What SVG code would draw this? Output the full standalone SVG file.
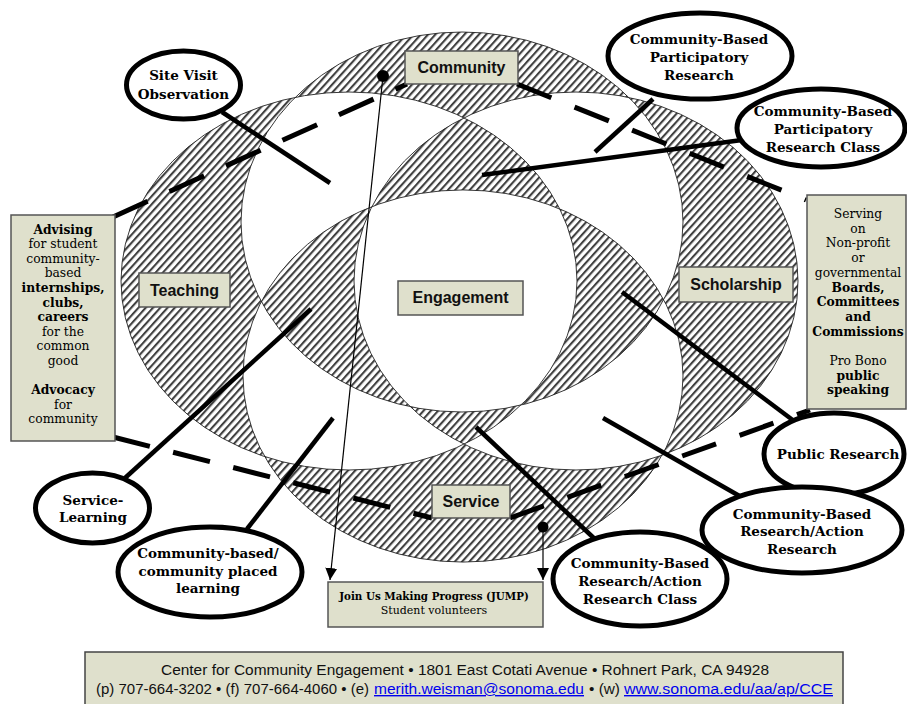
<svg xmlns="http://www.w3.org/2000/svg" width="907" height="704" viewBox="0 0 907 704">
<style>
.box{fill:#dfe0cc;stroke:#555;stroke-width:1.5}
.lbl{font-family:"Liberation Sans",Arial,sans-serif;font-weight:bold;font-size:16px;text-anchor:middle;fill:#111}
.call{fill:#fff;stroke:#000;stroke-width:5}
.ct{font-family:"DejaVu Serif",serif;font-weight:bold;font-size:13.5px;text-anchor:middle;fill:#000}
.lead{stroke:#000;stroke-width:4.5;fill:none}
.dash{stroke:#000;stroke-width:5;fill:none;stroke-dasharray:38 24}
.st{font-family:"DejaVu Serif",serif;font-size:12.3px;text-anchor:middle;fill:#000}
.st .b{font-weight:bold}
.foot{font-family:"Liberation Sans",Arial,sans-serif;font-size:14px;fill:#111}
.link{fill:#0000ee;text-decoration:underline}
.thin{stroke:#000;stroke-width:1.2;fill:none}
</style>
<defs>
<pattern id="hatch" width="5.4" height="5.4" patternUnits="userSpaceOnUse" patternTransform="rotate(42)">
<rect width="5.4" height="5.4" fill="#fff"/>
<rect width="2.1" height="5.4" fill="#404040"/>
</pattern>
<marker id="arr" markerUnits="userSpaceOnUse" markerWidth="14" markerHeight="14" refX="12" refY="6" orient="auto">
<path d="M0,0 L12,6 L0,12 Z" fill="#000"/>
</marker>
</defs>

<g id="venn">
<path fill="url(#hatch)" fill-rule="evenodd" stroke="#222" stroke-width="0.9" d="M241,222 a221,190 0 1,0 442,0 a221,190 0 1,0 -442,0 Z M243,376 a220,186 0 1,0 440,0 a220,186 0 1,0 -440,0 Z M121,281 a228,189 0 1,0 456,0 a228,189 0 1,0 -456,0 Z M354,281 a222,189 0 1,0 444,0 a222,189 0 1,0 -444,0 Z"/>
</g>

<g id="connectors">
<line class="dash" x1="113" y1="217" x2="407" y2="84"/>
<line class="dash" x1="517" y1="84" x2="806" y2="200" style="stroke-dasharray:37 25"/>
<line class="dash" x1="113" y1="437" x2="432" y2="518"/>
<line class="dash" x1="510" y1="518" x2="810" y2="410" style="stroke-dasharray:36 25"/>
<line class="lead" x1="222" y1="112" x2="330" y2="183"/>
<line class="lead" x1="653" y1="99" x2="595" y2="152"/>
<line class="lead" x1="742" y1="140" x2="482" y2="175"/>
<line class="lead" x1="622" y1="292" x2="802" y2="427"/>
<line class="lead" x1="603" y1="418" x2="750" y2="502"/>
<line class="lead" x1="476" y1="427" x2="598" y2="542"/>
<line class="lead" x1="125" y1="478" x2="311" y2="309"/>
<line class="lead" x1="247" y1="529" x2="333" y2="418"/>
<line class="thin" x1="383" y1="76" x2="330" y2="580" marker-end="url(#arr)"/>
<line class="thin" x1="543" y1="527" x2="543" y2="580" marker-end="url(#arr)"/>
<circle cx="383" cy="76" r="6" fill="#000"/>
<circle cx="543" cy="527" r="5.5" fill="#000"/>
</g>

<g id="community"><rect class="box" x="405" y="51" width="113" height="33"/><text class="lbl" x="461.5" y="73">Community</text></g>
<g id="teaching"><rect class="box" x="139" y="273" width="91" height="34"/><text class="lbl" x="184.5" y="296">Teaching</text></g>
<g id="engagement"><rect class="box" x="398" y="281" width="125" height="34"/><text class="lbl" x="460.5" y="303">Engagement</text></g>
<g id="scholarship"><rect class="box" x="679" y="267" width="114" height="35"/><text class="lbl" x="736" y="290">Scholarship</text></g>
<g id="service"><rect class="box" x="432" y="485" width="78" height="33"/><text class="lbl" x="471" y="507">Service</text></g>

<g id="advising">
<rect class="box" x="11" y="215" width="104" height="226"/>
<text class="st" x="63"><tspan class="b" x="63" y="233.5">Advising</tspan><tspan x="63" y="248.1">for student</tspan><tspan x="63" y="262.7">community-</tspan><tspan x="63" y="277.3">based</tspan><tspan class="b" x="63" y="291.9">internships,</tspan><tspan class="b" x="63" y="306.5">clubs,</tspan><tspan class="b" x="63" y="321.1">careers</tspan><tspan x="63" y="335.7">for the</tspan><tspan x="63" y="350.3">common</tspan><tspan x="63" y="364.9">good</tspan><tspan class="b" x="63" y="394.1">Advocacy</tspan><tspan x="63" y="408.7">for</tspan><tspan x="63" y="423.3">community</tspan></text>
</g>

<g id="serving">
<rect class="box" x="807" y="195" width="99" height="214"/>
<text class="st" x="858"><tspan x="858" y="218">Serving</tspan><tspan x="858" y="232.7">on</tspan><tspan x="858" y="247.4">Non-profit</tspan><tspan x="858" y="262.1">or</tspan><tspan x="858" y="276.8">governmental</tspan><tspan class="b" x="858" y="291.5">Boards,</tspan><tspan class="b" x="858" y="306.2">Committees</tspan><tspan class="b" x="858" y="320.9">and</tspan><tspan class="b" x="858" y="335.6">Commissions</tspan><tspan x="858" y="365">Pro Bono</tspan><tspan class="b" x="858" y="379.7">public</tspan><tspan class="b" x="858" y="394.4">speaking</tspan></text>
</g>

<g id="jump">
<rect class="box" x="328" y="582" width="215" height="45"/>
<text class="st" x="434" y="600" style="font-weight:bold;font-size:10.3px">Join Us Making Progress (JUMP)</text>
<text class="st" x="434" y="614" style="font-size:11px">Student volunteers</text>
</g>

<g id="site-visit"><ellipse class="call" cx="183.5" cy="85" rx="57" ry="34"/><text class="ct" x="183.5" y="80">Site Visit</text><text class="ct" x="183.5" y="99">Observation</text></g>
<g id="cbpr"><ellipse class="call" cx="700" cy="56" rx="92" ry="43"/><text class="ct" x="699" y="44">Community-Based</text><text class="ct" x="699" y="62">Participatory</text><text class="ct" x="699" y="80">Research</text></g>
<g id="cbpr-class"><ellipse class="call" cx="821" cy="128" rx="84" ry="39"/><text class="ct" x="823" y="116">Community-Based</text><text class="ct" x="823" y="134">Participatory</text><text class="ct" x="823" y="152">Research Class</text></g>
<g id="public-research"><ellipse class="call" cx="834" cy="454" rx="70" ry="41"/><text class="ct" x="838" y="459">Public Research</text></g>
<g id="cbrar"><ellipse class="call" cx="802" cy="530" rx="100" ry="43"/><text class="ct" x="802" y="519">Community-Based</text><text class="ct" x="802" y="536">Research/Action</text><text class="ct" x="802" y="554">Research</text></g>
<g id="cbrar-class"><ellipse class="call" cx="640" cy="579" rx="87" ry="47"/><text class="ct" x="640" y="568">Community-Based</text><text class="ct" x="640" y="586">Research/Action</text><text class="ct" x="640" y="604">Research Class</text></g>
<g id="service-learning"><ellipse class="call" cx="92.5" cy="508" rx="57" ry="35"/><text class="ct" x="93" y="505">Service-</text><text class="ct" x="93" y="522">Learning</text></g>
<g id="community-based"><ellipse class="call" cx="210" cy="572" rx="92" ry="45"/><text class="ct" x="208" y="558">Community-based/</text><text class="ct" x="208" y="576">community placed</text><text class="ct" x="208" y="593">learning</text></g>

<g id="footer">
<rect class="box" x="85" y="652" width="758" height="54" style="stroke:#444"/>
<text class="foot" x="161" y="675" textLength="608" lengthAdjust="spacingAndGlyphs">Center for Community Engagement • 1801 East Cotati Avenue • Rohnert Park, CA 94928</text>
<text class="foot" x="96" y="694" textLength="273" lengthAdjust="spacingAndGlyphs">(p) 707-664-3202 • (f) 707-664-4060 • (e)</text>
<text class="foot link" x="374" y="694" textLength="210" lengthAdjust="spacingAndGlyphs">merith.weisman@sonoma.edu</text>
<text class="foot" x="589" y="694" textLength="31" lengthAdjust="spacingAndGlyphs">• (w)</text>
<text class="foot link" x="624" y="694" textLength="209" lengthAdjust="spacingAndGlyphs">www.sonoma.edu/aa/ap/CCE</text>
</g>
</svg>
